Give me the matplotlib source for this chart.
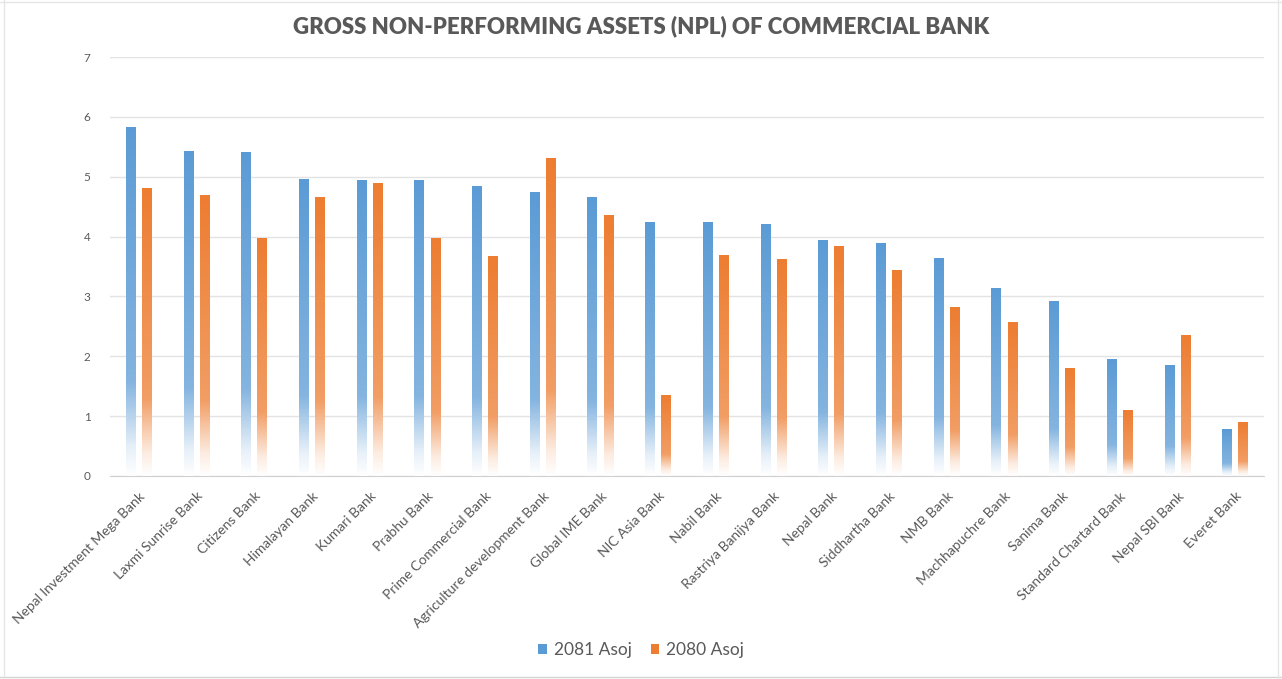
import numpy as np
import matplotlib
matplotlib.use('Agg')
import matplotlib.pyplot as plt
from matplotlib.colors import LinearSegmentedColormap, to_rgb
from matplotlib.patches import Patch
from matplotlib.lines import Line2D

banks = ['Nepal Investment Mega Bank', 'Laxmi Sunrise Bank', 'Citizens Bank',
         'Himalayan Bank', 'Kumari Bank', 'Prabhu Bank', 'Prime Commercial Bank',
         'Agriculture development Bank', 'Global IME Bank', 'NIC Asia Bank',
         'Nabil Bank', 'Rastriya Banijya Bank', 'Nepal Bank', 'Siddhartha Bank',
         'NMB Bank', 'Machhapuchre Bank', 'Sanima Bank', 'Standard Chartard Bank',
         'Nepal SBI Bank', 'Everet Bank']
npl_2081 = [5.83, 5.43, 5.40, 4.96, 4.94, 4.93, 4.84, 4.74, 4.66, 4.24,
            4.24, 4.21, 3.94, 3.89, 3.63, 3.14, 2.92, 1.94, 1.84, 0.77]
npl_2080 = [4.81, 4.68, 3.96, 4.66, 4.88, 3.96, 3.66, 5.31, 4.36, 1.35,
            3.68, 3.61, 3.84, 3.44, 2.82, 2.56, 1.79, 1.09, 2.34, 0.89]
series = ['2081 Asoj', '2080 Asoj']

blue = '#5B9BD5'
orange = '#ED7D31'
text_col = '#595959'

plt.rcParams['font.family'] = ['Lato', 'DejaVu Sans']


def fade_cmap(col):
    r, g, b = to_rgb(col)
    light = tuple(c + (1 - c) * 0.25 for c in (r, g, b))
    return LinearSegmentedColormap.from_list('fade', [
        (0.0, (1, 1, 1)),
        (0.08, tuple(c + (1 - c) * 0.85 for c in (r, g, b))),
        (0.27, light),
        (1.0, (r, g, b)),
    ])


fig = plt.figure(figsize=(12.82, 6.79), dpi=100)
ax = fig.add_axes([0.0858, 0.299, 0.9002, 0.617])

x = np.arange(len(banks))
w = 0.17
off = 0.14
grad = np.linspace(0, 1, 256).reshape(-1, 1)

for vals, col, sgn in [(npl_2081, blue, -1), (npl_2080, orange, 1)]:
    bars = ax.bar(x + sgn * off, vals, w, color='none', edgecolor='none')
    cmap = fade_cmap(col)
    for b in bars:
        x0, y0 = b.get_x(), b.get_y()
        ax.imshow(grad, cmap=cmap, origin='lower', aspect='auto',
                  extent=[x0, x0 + b.get_width(), y0, y0 + b.get_height()],
                  zorder=2, interpolation='bilinear')

ax.set_xlim(-0.5, len(banks) - 0.5)
ax.set_ylim(0, 7)
ax.set_yticks(range(0, 8))
ax.yaxis.grid(True, color='#E3E3E3', linewidth=1)
ax.set_axisbelow(True)
for s in ['top', 'right', 'left']:
    ax.spines[s].set_visible(False)
ax.spines['bottom'].set_color('#D0D0D0')
ax.tick_params(axis='both', length=0, colors=text_col)
ax.tick_params(axis='y', labelsize=8.5, pad=14)
ax.set_xticks(x)
ax.set_xticklabels(banks, rotation=45, ha='right', rotation_mode='anchor',
                   fontsize=10, color=text_col)
ax.tick_params(axis='x', pad=10)

fig.suptitle('GROSS NON-PERFORMING ASSETS (NPL) OF COMMERCIAL BANK',
             x=0.5, y=0.977, fontsize=16, fontweight='heavy', color=text_col)

handles = [Patch(facecolor=blue, edgecolor='none'),
           Patch(facecolor=orange, edgecolor='none')]
fig.legend(handles, series, loc='center', bbox_to_anchor=(0.5, 0.043), ncol=2,
           frameon=False, fontsize=12.5, handlelength=0.5, handleheight=0.5,
           handletextpad=0.4, columnspacing=1.1, labelcolor=text_col)

# faint spreadsheet cell lines around the chart
fig.add_artist(Line2D([0, 1], [0.003, 0.003], color='#D4D4D4', lw=1))
fig.add_artist(Line2D([0, 1], [0.997, 0.997], color='#E6E6E6', lw=1))
fig.add_artist(Line2D([0.003, 0.003], [0, 1], color='#E6E6E6', lw=1))
fig.add_artist(Line2D([0.997, 0.997], [0, 1], color='#E6E6E6', lw=1))

fig.savefig('out.png', dpi=100, facecolor='white')
